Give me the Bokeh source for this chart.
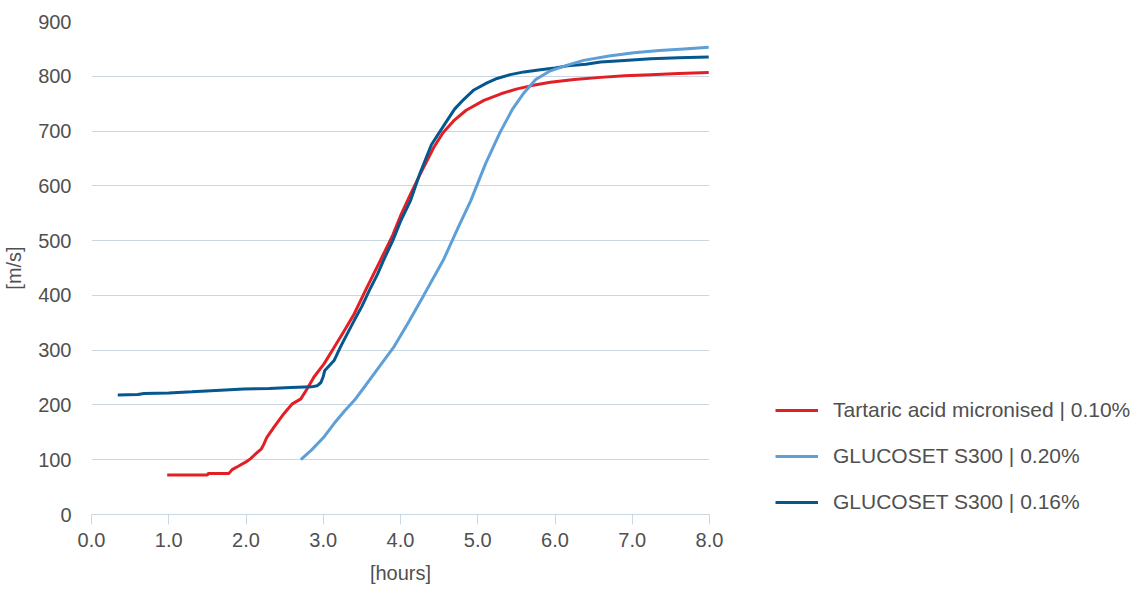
from bokeh.plotting import figure
from bokeh.layouts import row
from bokeh.models import Range1d, FixedTicker, Legend, LegendItem
from bokeh.embed import file_html
from bokeh.resources import INLINE

# Tartaric acid micronised | 0.10%
red_x = [0.98, 1.5, 1.51, 1.78, 1.82, 1.9, 2.0, 2.06, 2.12, 2.2, 2.23, 2.27, 2.36, 2.49, 2.6, 2.71,
         2.79, 2.88, 3.01, 3.14, 3.27, 3.40, 3.55, 3.74, 3.9, 4.0, 4.13, 4.25, 4.43, 4.55, 4.69,
         4.85, 5.08, 5.3, 5.51, 5.7, 5.94, 6.25, 6.59, 6.9, 7.24, 7.6, 7.99]
red_y = [72, 72, 75, 75, 82, 88, 96, 102, 110, 120, 128, 141, 159, 184, 202, 211,
         229, 251, 275, 305, 335, 366, 410, 464, 510, 545, 585, 620, 670, 697, 719,
         738, 756, 768, 777, 783, 789, 794, 798, 801, 803, 805, 807]

# GLUCOSET S300 | 0.20%
light_x = [2.71, 2.85, 3.0, 3.14, 3.27, 3.40, 3.55, 3.7, 3.91, 4.1, 4.3, 4.56, 4.75, 4.91, 5.1,
           5.29, 5.45, 5.6, 5.75, 5.94, 6.15, 6.37, 6.7, 7.02, 7.35, 7.67, 7.99]
light_y = [100, 118, 140, 166, 188, 208, 236, 265, 305, 350, 400, 466, 525, 573, 640,
           698, 740, 770, 794, 810, 820, 829, 837, 843, 847, 850, 853]

# GLUCOSET S300 | 0.16%
dark_x = [0.34, 0.6, 0.68, 1.0, 1.3, 1.67, 1.97, 2.3, 2.58, 2.85, 2.92, 2.97, 3.0, 3.02, 3.08,
          3.14, 3.22, 3.30, 3.40, 3.50, 3.60, 3.70, 3.78, 3.9, 4.0, 4.13, 4.25, 4.4, 4.56, 4.7,
          4.82, 4.95, 5.12, 5.25, 5.42, 5.6, 5.81, 6.0, 6.16, 6.4, 6.59, 6.9, 7.24, 7.6, 7.99]
dark_y = [218, 219, 221, 222, 224, 227, 229, 230, 232, 233, 235, 241, 252, 263, 272,
          281, 305, 327, 354, 380, 410, 438, 464, 500, 535, 573, 622, 675, 710, 740,
          758, 775, 788, 796, 803, 808, 812, 815, 819, 822, 826, 829, 832, 834, 835]

series_names = ["Tartaric acid micronised | 0.10%",
                "GLUCOSET S300 | 0.20%",
                "GLUCOSET S300 | 0.16%"]
series_colors = ["#e31f26", "#5e9fd8", "#05578e"]

x_ticks = [0, 1, 2, 3, 4, 5, 6, 7, 8]
x_tick_labels = ["0.0", "1.0", "2.0", "3.0", "4.0", "5.0", "6.0", "7.0", "8.0"]
y_ticks = [0, 100, 200, 300, 400, 500, 600, 700, 800, 900]

FONT = "Liberation Sans"
TXT = "#505050"
GRID = "#c9d8e2"
FS = "20px"

p = figure(width=740, height=590, x_range=Range1d(0, 8), y_range=Range1d(0, 900),
           output_backend="svg", toolbar_location=None,
           min_border_left=91, min_border_right=31, min_border_top=21, min_border_bottom=76)
p.outline_line_color = None
p.xgrid.grid_line_color = None
p.ygrid.ticker = FixedTicker(ticks=y_ticks)
p.ygrid.grid_line_color = GRID
p.ygrid.grid_line_width = 1

xa = p.xaxis[0]
xa.ticker = FixedTicker(ticks=x_ticks)
xa.major_label_overrides = {t: l for t, l in zip(x_ticks, x_tick_labels)}
xa.axis_line_color = GRID
xa.major_tick_line_color = GRID
xa.major_tick_out = 10
xa.major_tick_in = 0
xa.minor_tick_line_color = None
xa.major_label_standoff = 8
xa.major_label_text_font = FONT
xa.major_label_text_font_size = FS
xa.major_label_text_color = TXT
xa.axis_label = "[hours]"
xa.axis_label_text_font = FONT
xa.axis_label_text_font_size = FS
xa.axis_label_text_font_style = "normal"
xa.axis_label_text_color = TXT
xa.axis_label_standoff = 12

ya = p.yaxis[0]
ya.ticker = FixedTicker(ticks=y_ticks)
ya.axis_line_color = None
ya.major_tick_line_color = None
ya.minor_tick_line_color = None
ya.major_label_standoff = 14
ya.major_label_text_font = FONT
ya.major_label_text_font_size = FS
ya.major_label_text_color = TXT
ya.axis_label = "[m/s]"
ya.axis_label_text_font = FONT
ya.axis_label_text_font_size = FS
ya.axis_label_text_font_style = "normal"
ya.axis_label_text_color = TXT
ya.axis_label_standoff = 10

p.line(red_x, red_y, line_color=series_colors[0], line_width=3)
p.line(dark_x, dark_y, line_color=series_colors[2], line_width=3)
p.line(light_x, light_y, line_color=series_colors[1], line_width=3)

# legend panel (separate canvas to the right of the plot area; its frame aligns with the plot's)
lg = figure(width=397, height=590, x_range=Range1d(0, 1), y_range=Range1d(0, 1),
            output_backend="svg", toolbar_location=None,
            x_axis_type=None, y_axis_type=None,
            min_border_left=0, min_border_right=0, min_border_top=0, min_border_bottom=0)
lg.outline_line_color = None
lg.xgrid.grid_line_color = None
lg.ygrid.grid_line_color = None
nan = float("nan")
proxies = [lg.line(x=[nan], y=[nan], line_color=c, line_width=3) for c in series_colors]

legend = Legend(items=[LegendItem(label=n, renderers=[r]) for n, r in zip(series_names, proxies)],
                location=(35, 0))
legend.border_line_color = None
legend.background_fill_alpha = 0
legend.padding = 0
legend.margin = 0
legend.spacing = 22
legend.glyph_width = 43
legend.glyph_height = 24
legend.label_height = 24
legend.label_standoff = 15
legend.label_text_font = FONT
legend.label_text_font_size = "21px"
legend.label_text_color = TXT
lg.add_layout(legend)

layout = row(p, lg, spacing=0)
open("out.html", "w").write(file_html(layout, INLINE))
